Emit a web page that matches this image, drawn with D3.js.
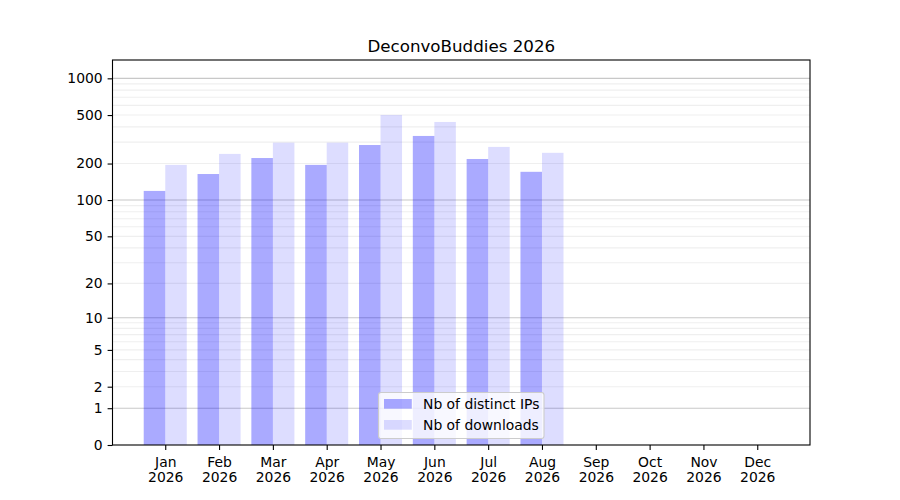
<!DOCTYPE html>
<html>
<head>
<meta charset="utf-8">
<script src="https://cdn.jsdelivr.net/npm/d3@7"></script>
<style>
  body { margin: 0; background: #fff; }
  svg { font-family: "DejaVu Sans", sans-serif; }
</style>
</head>
<body>
<svg id="chart" width="900" height="500"></svg>
<script>
//  data
const months = ["Jan", "Feb", "Mar", "Apr", "May", "Jun", "Jul", "Aug", "Sep", "Oct", "Nov", "Dec"];
const year = "2026";
const distinct_ips = [119, 164, 222, 195, 284, 337, 218, 171];
const downloads = [195, 240, 297, 297, 501, 439, 274, 245];
const y_ticks = [0, 1, 2, 5, 10, 20, 50, 100, 200, 500, 1000];
const y_major_grid = [1, 10, 100, 1000];
const y_minor_grid = [2, 3, 4, 5, 6, 7, 8, 9, 20, 30, 40, 50, 60, 70, 80, 90, 200, 300, 400, 500, 600, 700, 800, 900];
const series_names = ["Nb of distinct IPs", "Nb of downloads"];

//  draw bar chart
function draw_chart() {
  const margin = ({top: 60, right: 90, bottom: 55, left: 112.5});
  const w = 900, h = 500;
  const svg = d3.select("#chart");

  svg.selectAll('*').remove();

  const x = d3.scaleLinear()
    .domain([-0.98, 11.98])
    .range([margin.left, w - margin.right]);

  //  y is log10(1 + v), same as symlog with constant 1
  const y = d3.scaleSymlog()
    .constant(1)
    .domain([0, 1413])
    .range([h - margin.bottom, margin.top]);

  const bar_w = 0.4;

  //  grid
  svg.append("g")
    .selectAll("line")
    .data(y_minor_grid)
    .join("line")
      .attr("x1", margin.left).attr("x2", w - margin.right)
      .attr("y1", d => y(d)).attr("y2", d => y(d))
      .attr("stroke", "#b0b0b0").attr("stroke-opacity", 0.2)
      .attr("stroke-width", 1.1);

  svg.append("g")
    .selectAll("line")
    .data(y_major_grid)
    .join("line")
      .attr("x1", margin.left).attr("x2", w - margin.right)
      .attr("y1", d => y(d)).attr("y2", d => y(d))
      .attr("stroke", "#b0b0b0").attr("stroke-opacity", 0.7)
      .attr("stroke-width", 1.1);

  //  bars
  svg.append("g")
    .selectAll("rect")
    .data(distinct_ips)
    .join("rect")
      .attr("x", (d, i) => x(i - bar_w))
      .attr("width", (d, i) => x(i) - x(i - bar_w))
      .attr("y", d => y(d))
      .attr("height", d => y(0) - y(d))
      .attr("fill", "blue").attr("fill-opacity", 0.333);

  svg.append("g")
    .selectAll("rect")
    .data(downloads)
    .join("rect")
      .attr("x", (d, i) => x(i))
      .attr("width", (d, i) => x(i + bar_w) - x(i))
      .attr("y", d => y(d))
      .attr("height", d => y(0) - y(d))
      .attr("fill", "blue").attr("fill-opacity", 0.133);

  //  axes
  const xAxis = g => g
    .attr("transform", `translate(0,${h - margin.bottom})`)
    .call(d3.axisBottom(x).tickValues(d3.range(months.length)).tickSize(4.9).tickPadding(4.9).tickFormat(""));

  const yAxis = g => g
    .attr("transform", `translate(${margin.left},0)`)
    .call(d3.axisLeft(y).tickValues(y_ticks).tickSize(4.9).tickPadding(4.9).tickFormat(d3.format("d")));

  const gx = svg.append("g").call(xAxis);
  const gy = svg.append("g").style("font-size", "13.9px").style("font-family", "DejaVu Sans").call(yAxis);

  gx.select(".domain").remove();
  gy.select(".domain").remove();
  svg.selectAll(".tick line").attr("stroke", "#000").attr("stroke-width", 1.1);
  gy.selectAll(".tick text").attr("fill", "#000");

  //  two-line month labels
  gx.selectAll(".tick").each(function (d) {
    const t = d3.select(this).append("text")
      .attr("fill", "#000")
      .attr("text-anchor", "middle")
      .style("font-size", "13.9px")
      .style("font-family", "DejaVu Sans");
    t.append("tspan").attr("x", 0).attr("y", 21.5).text(months[d]);
    t.append("tspan").attr("x", 0).attr("y", 37).text(year);
  });

  //  frame
  svg.append("rect")
    .attr("x", margin.left).attr("y", margin.top)
    .attr("width", w - margin.right - margin.left)
    .attr("height", h - margin.bottom - margin.top)
    .attr("fill", "none").attr("stroke", "#000").attr("stroke-width", 1.1);

  //  title
  svg.append("text")
    .attr("x", (margin.left + w - margin.right) / 2)
    .attr("y", 52)
    .attr("text-anchor", "middle")
    .style("font-size", "16.7px")
    .text("DeconvoBuddies " + year);

  //  legend
  const lg = svg.append("g").attr("transform", "translate(378.5,392.5)");
  lg.append("rect")
    .attr("width", 165.5).attr("height", 46)
    .attr("rx", 2.5)
    .attr("fill", "#fff").attr("fill-opacity", 0.8)
    .attr("stroke", "#cccccc").attr("stroke-width", 1.1);

  const opacities = [0.333, 0.133];
  series_names.forEach((name, i) => {
    lg.append("rect")
      .attr("x", 5.5).attr("y", 6.5 + i * 21)
      .attr("width", 27.8).attr("height", 9.7)
      .attr("fill", "blue").attr("fill-opacity", opacities[i]);
    lg.append("text")
      .attr("x", 44.5).attr("y", 16 + i * 21)
      .style("font-size", "13.9px")
      .text(name);
  });
}

draw_chart();
</script>
</body>
</html>
